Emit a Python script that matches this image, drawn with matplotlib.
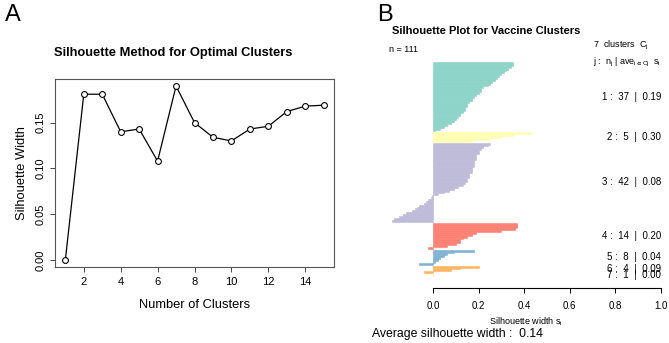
import numpy as np
import matplotlib
matplotlib.use("Agg")
import matplotlib.pyplot as plt
from matplotlib.transforms import blended_transform_factory

plt.rcParams['font.family'] = ['Liberation Sans', 'DejaVu Sans']
plt.rcParams['mathtext.default'] = 'regular'

# ---- Panel A data: average silhouette width per k
k_values = list(range(1, 16))
sil_width = [0.000, 0.181, 0.181, 0.140, 0.143, 0.108, 0.190, 0.150,
             0.134, 0.130, 0.143, 0.146, 0.162, 0.168, 0.169]

# ---- Panel B data: silhouette value of each observation, per cluster
clust1 = [0.35, 0.35, 0.34, 0.33, 0.32, 0.31, 0.30, 0.29, 0.28, 0.27,
          0.26, 0.25, 0.24, 0.22, 0.21, 0.21, 0.20, 0.19, 0.18, 0.17,
          0.17, 0.16, 0.15, 0.15, 0.14, 0.14, 0.13, 0.12, 0.12, 0.11,
          0.10, 0.09, 0.08, 0.06, 0.05, 0.03, 0.01]
clust2 = [0.43, 0.35, 0.30, 0.25, 0.17]
clust3 = [0.25, 0.24, 0.22, 0.21, 0.20, 0.20, 0.19, 0.19, 0.19, 0.18,
          0.18, 0.18, 0.18, 0.17, 0.17, 0.17, 0.16, 0.16, 0.16, 0.15,
          0.15, 0.14, 0.13, 0.11, 0.09, 0.07, 0.05, 0.02,
          -0.005, -0.01, -0.02, -0.03, -0.04, -0.06, -0.07, -0.08,
          -0.09, -0.12, -0.13, -0.15, -0.17, -0.18]
clust4 = [0.37, 0.37, 0.37, 0.36, 0.30, 0.19, 0.17, 0.15, 0.13, 0.12,
          0.12, 0.10, 0.06, -0.02]
clust5 = [0.18, 0.09, 0.06, 0.05, 0.03, 0.02, 0.01, -0.06]
clust6 = [0.20, 0.12, 0.08, -0.04]
clust7 = [0.00]
clusters = [clust1, clust2, clust3, clust4, clust5, clust6, clust7]
clust_sizes = [37, 5, 42, 14, 8, 4, 1]
clust_avg = ["0.19", "0.30", "0.08", "0.20", "0.04", "0.09", "0.00"]
clust_colors = ["#8DD3C7", "#FFFFB3", "#BEBADA", "#FB8072",
                "#80B1D3", "#FDB462", "#B3DE69"]
avg_sil = "0.14"

W, H = 669, 343
fig = plt.figure(figsize=(W / 100, H / 100), dpi=100)


def px_axes(left, top, right, bottom):
    # axes from pixel box
    return fig.add_axes([left / W, 1 - bottom / H, (right - left) / W, (bottom - top) / H])


# ================= Panel A =================
axA = px_axes(55, 79, 334, 267)
axA.plot(k_values, sil_width, color="black", lw=0.9, marker="o", ms=4.2,
         mfc="white", mec="black", mew=0.8)
axA.set_xlim(1 - 0.04 * 14, 15 + 0.04 * 14)
ymax = max(sil_width)
axA.set_ylim(-0.04 * ymax, ymax * 1.04)
axA.set_xticks([2, 4, 6, 8, 10, 12, 14])
axA.set_yticks([0.00, 0.05, 0.10, 0.15])
axA.set_yticklabels(["0.00", "0.05", "0.10", "0.15"], rotation=90, va="center")
axA.tick_params(labelsize=8, length=3.5, width=0.7, color="#444444")
for s in axA.spines.values():
    s.set_color("#555555")
    s.set_linewidth(0.8)
axA.set_xlabel("Number of Clusters", fontsize=9.3, labelpad=9)
axA.set_ylabel("Silhouette Width", fontsize=9.3, labelpad=5)
fig.text(173 / W, 1 - 53 / H, "Silhouette Method for Optimal Clusters",
         fontsize=9.3, fontweight="bold", ha="center", va="center")
fig.text(5 / W, 1 - 15 / H, "A", fontsize=17, ha="left", va="center")

# ================= Panel B =================
xl, xr = -0.20, 1.01
px0, px1 = 433, 661
axB = px_axes(px0 + xl * (px1 - px0), 62, px0 + xr * (px1 - px0), 276)
pos = 0.0
centers = []
for i, vals in enumerate(clusters):
    ys = pos + np.arange(len(vals)) + 0.5
    axB.barh(ys, vals, height=1.0, left=0, color=clust_colors[i],
             edgecolor=clust_colors[i], lw=0.4)
    centers.append(pos + len(vals) / 2)
    pos += len(vals) + 0.5
pos -= 0.5
axB.set_xlim(xl, xr)
axB.set_ylim(pos, 0)
for side in ["top", "left", "right"]:
    axB.spines[side].set_visible(False)
axB.spines["bottom"].set_bounds(0, 1)
axB.spines["bottom"].set_position(("outward", 8.5))
axB.spines["bottom"].set_linewidth(0.8)
axB.set_yticks([])
axB.set_xticks([0, 0.2, 0.4, 0.6, 0.8, 1.0])
axB.set_xticklabels(["0.0", "0.2", "0.4", "0.6", "0.8", "1.0"])
axB.tick_params(axis="x", labelsize=7, length=3.5, width=0.7, pad=6)
axB.set_xlabel("Silhouette width $s_i$", fontsize=6.5, labelpad=3)

tr = blended_transform_factory(axB.transData, fig.transFigure)
for i, c in enumerate(centers):
    axB.text(1.0, c, "%d :  %d  |  %s" % (i + 1, clust_sizes[i], clust_avg[i]),
             fontsize=7, ha="right", va="center")
axB.text(0.70, 1 - 45 / H, "%d  clusters  $C_j$" % len(clusters), transform=tr,
         fontsize=6.5, ha="left", va="center")
axB.text(0.70, 1 - 62 / H, r"j :  $n_j$ | $ave_{i\in Cj}$  $s_i$", transform=tr,
         fontsize=6.5, ha="left", va="center")
fig.text(389 / W, 1 - 49 / H, "n = %d" % sum(clust_sizes), fontsize=6.5,
         ha="left", va="center")
fig.text(392 / W, 1 - 31 / H, "Silhouette Plot for Vaccine Clusters",
         fontsize=8, fontweight="bold", ha="left", va="center")
fig.text(372 / W, 1 - 334 / H, "Average silhouette width :  " + avg_sil,
         fontsize=8.8, ha="left", va="center")
fig.text(377 / W, 1 - 15 / H, "B", fontsize=17, ha="left", va="center")

fig.savefig("out.png", dpi=100)
